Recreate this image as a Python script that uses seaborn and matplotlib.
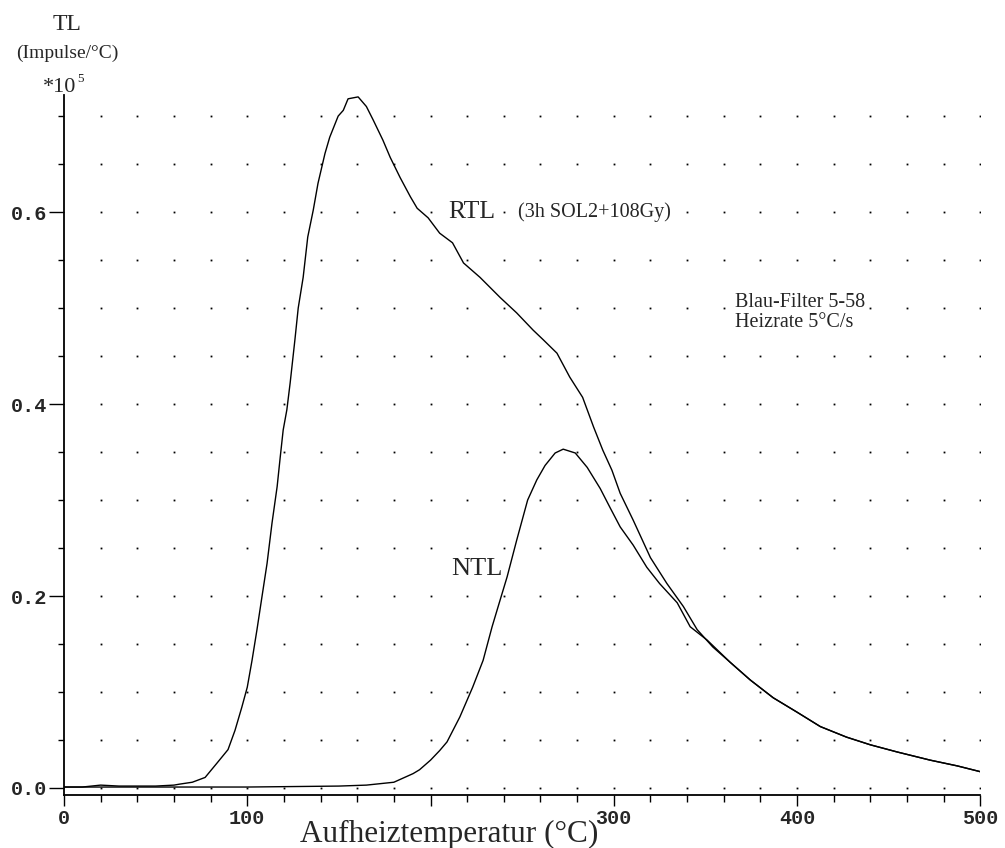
import numpy as np
import matplotlib
matplotlib.use("Agg")
import matplotlib.pyplot as plt
import seaborn as sns
import pandas as pd

sns.set_style("white")
plt.rcParams['font.family'] = ['Liberation Serif', 'DejaVu Serif']

# RTL curve (3h SOL2 + 108 Gy)
rtl_temp = [0, 10, 20, 30, 40, 50, 60, 63, 70, 77, 83.5, 89.5, 93.3, 97, 100,
            102.6, 105.3, 108, 110.8, 113.5, 116.3, 118, 119.6, 121.6, 123.4,
            126, 127.8, 130.5, 133, 136, 138.6, 142.4, 145, 149.6, 152.4, 155,
            160.5, 165, 168.7, 174, 178, 183.4, 189, 192.7, 198.7, 205, 212,
            218, 227, 238, 247, 256, 261.5, 269, 276, 283, 289, 294, 299,
            303.5, 310.6, 320, 329, 338, 345.5, 354, 363.5, 374.5, 387, 400,
            412.7, 427, 440, 454.7, 472.7, 487.5, 500]
rtl_val = [0.001, 0.001, 0.003, 0.002, 0.002, 0.002, 0.003, 0.004, 0.006,
           0.011, 0.026, 0.040, 0.060, 0.084, 0.105, 0.133, 0.165, 0.199,
           0.234, 0.276, 0.314, 0.345, 0.373, 0.394, 0.422, 0.467, 0.500,
           0.532, 0.574, 0.602, 0.630, 0.661, 0.678, 0.700, 0.706, 0.718,
           0.720, 0.710, 0.696, 0.675, 0.657, 0.636, 0.616, 0.604, 0.594,
           0.578, 0.568, 0.547, 0.532, 0.511, 0.495, 0.477, 0.467, 0.453,
           0.428, 0.407, 0.376, 0.352, 0.331, 0.307, 0.279, 0.240, 0.213,
           0.189, 0.165, 0.147, 0.131, 0.1125, 0.094, 0.079, 0.064, 0.053,
           0.045, 0.0375, 0.029, 0.023, 0.017]

# NTL curve
ntl_temp = [0, 50, 100, 150, 165, 180, 190.5, 194, 200, 205, 209, 216, 223,
            228.7, 233.6, 238, 241.8, 247, 253, 258, 262.5, 268, 272.4, 279,
            285.5, 292.6, 298, 303.5, 310.6, 318, 325, 334.6, 341.7, 351,
            363.5, 374.5, 387, 400, 412.7, 427, 440, 454.7, 472.7, 487.5, 500]
ntl_val = [0.001, 0.001, 0.001, 0.002, 0.003, 0.006, 0.015, 0.019, 0.029,
           0.039, 0.048, 0.074, 0.105, 0.133, 0.168, 0.196, 0.220, 0.258,
           0.300, 0.321, 0.336, 0.349, 0.353, 0.349, 0.334, 0.312, 0.292,
           0.272, 0.253, 0.230, 0.213, 0.193, 0.168, 0.154, 0.131, 0.1125,
           0.094, 0.079, 0.064, 0.053, 0.045, 0.0375, 0.029, 0.023, 0.017]

x_major = [0, 100, 200, 300, 400, 500]
# the "200" label is hidden under the axis title in the original
x_labels = ['0', '100', '', '300', '400', '500']
y_major = [0.0, 0.2, 0.4, 0.6]
y_labels = ['0.0', '0.2', '0.4', '0.6']

rtl = pd.DataFrame({'T': rtl_temp, 'TL': rtl_val})
ntl = pd.DataFrame({'T': ntl_temp, 'TL': ntl_val})

fig = plt.figure(figsize=(10.05, 8.48), dpi=100)
ax = fig.add_axes([0.0637, 0.0625, 0.9117, 0.8255])

# dotted grid: one dot at every minor tick crossing
gx, gy = np.meshgrid(np.arange(20, 501, 20), np.arange(0, 0.701, 0.05))
ax.plot(gx.ravel(), gy.ravel(), ls='none', marker='s', ms=1.3, color='black', mew=0)

sns.lineplot(data=rtl, x='T', y='TL', ax=ax, color='black', lw=1.0,
             sort=False, estimator=None)
sns.lineplot(data=ntl, x='T', y='TL', ax=ax, color='black', lw=1.0,
             sort=False, estimator=None)

ax.set_xlim(0, 500)
ax.set_ylim(-0.0073, 0.722)
ax.set_xlabel('')
ax.set_ylabel('')

for s in ['top', 'right']:
    ax.spines[s].set_visible(False)
for s in ['left', 'bottom']:
    ax.spines[s].set_color('black')
    ax.spines[s].set_linewidth(1.3)

ax.set_xticks(x_major)
ax.set_xticklabels(x_labels)
ax.set_xticks(np.arange(0, 501, 20), minor=True)
ax.set_yticks(y_major)
ax.set_yticklabels(y_labels)
ax.set_yticks(np.arange(0, 0.701, 0.05), minor=True)

tick_fp = matplotlib.font_manager.FontProperties(family='Liberation Mono',
                                                  weight='bold', size=14.5)
for lab in ax.get_xticklabels() + ax.get_yticklabels():
    lab.set_fontproperties(tick_fp)

ax.tick_params(axis='x', which='major', direction='out', length=8, width=1,
               color='black', pad=2, bottom=True)
ax.tick_params(axis='x', which='minor', direction='out', length=5, width=1,
               color='black', bottom=True)
ax.tick_params(axis='y', which='major', direction='out', length=11, width=1,
               color='black', pad=1, left=True)
ax.tick_params(axis='y', which='minor', direction='out', length=4.5, width=1,
               color='black', left=True)

# axis titles
fig.text(67 / 1005, 1 - 25 / 848, 'TL', ha='center', va='center', fontsize=17)
fig.text(67 / 1005, 1 - 53 / 848, '(Impulse/°C)', ha='center', va='center', fontsize=14)
fig.text(60 / 1005, 1 - 88 / 848, '*10', ha='center', va='center', fontsize=16)
fig.text(80 / 1005, 1 - 79 / 848, '5', ha='center', va='center', fontsize=9.5)
fig.text(449 / 1005, 1 - 842 / 848, 'Aufheiztemperatur (°C)', ha='center',
         va='baseline', fontsize=22.5)

# annotations, on white so the grid dots under them vanish
box = dict(facecolor='white', edgecolor='none', pad=1)
ax.text(222.5, 0.6, 'RTL', ha='center', va='center', fontsize=18.5, bbox=box, zorder=5)
ax.text(247.5, 0.6, '(3h SOL2+108Gy)', ha='left', va='center', fontsize=14.5,
        bbox=box, zorder=5)
ax.text(225.5, 0.228, 'NTL', ha='center', va='center', fontsize=19, bbox=box, zorder=5)
ax.text(366, 0.506, 'Blau-Filter 5-58', ha='left', va='center', fontsize=14.5,
        bbox=box, zorder=5)
ax.text(366, 0.485, 'Heizrate 5°C/s', ha='left', va='center', fontsize=14.5,
        bbox=box, zorder=5)

fig.savefig('out.png', dpi=100)
